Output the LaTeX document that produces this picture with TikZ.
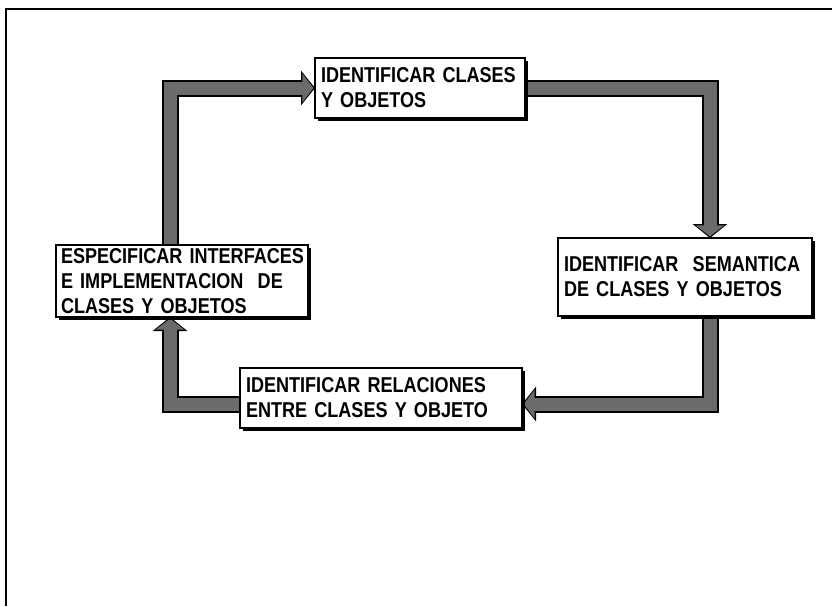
\documentclass[tikz,border=0pt]{standalone}
\usepackage{fontspec}
\setmainfont{Liberation Sans}[FakeStretch=0.84]
\usetikzlibrary{arrows.meta,shadows,backgrounds}

\tikzset{
  stepbox/.style={draw=black, line width=1.5pt, fill=white, anchor=north west,
    align=left, inner xsep=6pt, inner ysep=0pt, outer sep=0pt,
    font=\fontsize{21.5}{25}\selectfont\bfseries,
    drop shadow={shadow xshift=2.5pt, shadow yshift=-2.5pt, fill=black, opacity=1}},
  pipeedge/.style={line width=17pt, black, line join=miter, line cap=butt,
    -{Triangle[width=34pt,length=14pt]}},
  pipefill/.style={line width=13pt, black!58, line join=miter, line cap=butt,
    shorten >=1.6pt, -{Triangle[width=28pt,length=11pt]}},
}
\newcommand{\pipe}[1]{%
  \draw[pipeedge] #1;
  \draw[pipefill] #1;}

\begin{document}
\begin{tikzpicture}[x=1pt, y=-1pt]
  \useasboundingbox (0,0) rectangle (832,606);

  % outer frame
  \draw[line width=2pt] (6,606) |- (832,9);

  % process steps
  \node[stepbox, text width=198pt, minimum height=60pt] (n1) at (315,58)
    {\mbox{IDENTIFICAR CLASES}\\\mbox{Y OBJETOS}};
  \node[stepbox, text width=242pt, minimum height=78pt] (n2) at (558,238)
    {\mbox{IDENTIFICAR\ \ SEMANTICA}\\\mbox{DE CLASES Y OBJETOS}};
  \node[stepbox, text width=270pt, minimum height=60pt] (n3) at (240,368)
    {\mbox{IDENTIFICAR RELACIONES}\\\mbox{ENTRE CLASES Y OBJETO}};
  \node[stepbox, inner xsep=5pt, text width=242pt, minimum height=72pt] (n4) at (56,245)
    {\mbox{ESPECIFICAR INTERFACES}\\\mbox{E IMPLEMENTACION\ \ DE}\\\mbox{CLASES Y OBJETOS}};

  % guide lines for the cycle
  \coordinate (lx) at (170,0);
  \coordinate (rx) at (710,0);
  \coordinate (by) at (0,404);

  \begin{scope}[on background layer]
    \pipe{(lx |- n4.north) |- (n1.west)}
    \pipe{(n1.east) -| (rx |- n2.north)}
    \pipe{(rx |- n2.south) |- (n3.east |- by)}
    \pipe{(n3.west |- by) -| (lx |- n4.south)}
  \end{scope}
\end{tikzpicture}
\end{document}
